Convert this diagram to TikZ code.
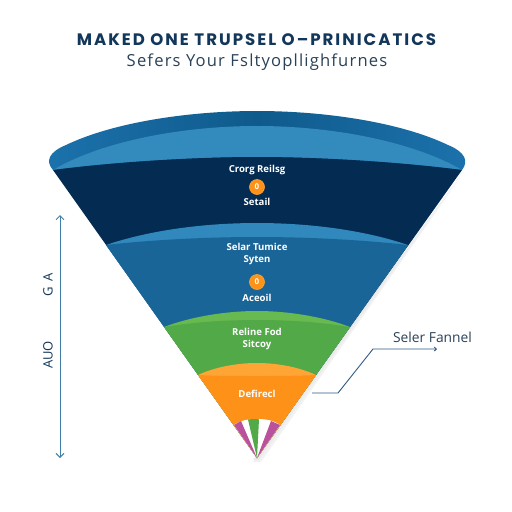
\documentclass[tikz,border=0pt]{standalone}
\usepackage{fontspec}
\setmainfont{Open Sans}
\newfontfamily\titlefont[LetterSpace=12]{Poppins}
\newfontfamily\subfont[LetterSpace=7]{Open Sans}
\usetikzlibrary{arrows.meta}
\definecolor{capblue}{HTML}{0F5A8C}
\definecolor{capend}{HTML}{1C72AC}
\definecolor{bandblue}{HTML}{338ABD}
\definecolor{navy}{HTML}{042B52}
\definecolor{midblue}{HTML}{1A6598}
\definecolor{midband}{HTML}{3088BC}
\definecolor{grn}{HTML}{51A947}
\definecolor{grnband}{HTML}{68B94F}
\definecolor{org}{HTML}{FE9219}
\definecolor{orgband}{HTML}{FFA536}
\definecolor{purp}{HTML}{B9519D}
\definecolor{titleblue}{HTML}{12375A}
\definecolor{subgray}{HTML}{2A4258}
\definecolor{axisblue}{HTML}{3F7FA6}
\definecolor{calloutblue}{HTML}{2F5A85}
\tikzset{
  stagelabel/.style={text=white,font=\fontsize{9.6}{11}\selectfont\bfseries,inner sep=0pt,align=center},
  coin/.style={circle,fill=org,draw=orgband,line width=0.6pt,minimum size=15pt,inner sep=0pt,text=white,font=\fontsize{8}{8}\selectfont\bfseries},
  sidelabel/.style={rotate=90,text=titleblue,font=\fontsize{13}{14}\selectfont,inner sep=0pt},
  axisline/.style={draw=axisblue,line width=0.9pt,{Straight Barb[length=4pt,width=8pt]}-{Straight Barb[length=4pt,width=8pt]}},
  calloutline/.style={draw=calloutblue,line width=0.9pt,line join=round,-{Straight Barb[length=2pt,width=4pt]}}
}
\begin{document}
\begin{tikzpicture}[x=1pt,y=-1pt]
\path[use as bounding box,fill=white] (0,0) rectangle (512,512);
% soft shadow at the right side
\fill[black!5] (464,172) -- (261,462) -- (253,462) -- cycle;
\fill[black!8] (463.5,171) -- (259,460) -- (253,460) -- cycle;
% cap
\path[left color=capend,right color=capend,middle color=capblue]
  (53,170) .. controls (45,161) and (49,152) .. (66,145)
  .. controls (114,122) and (190,111) .. (257,111)
  .. controls (324,111) and (400,122) .. (448,145)
  .. controls (465,152) and (469,161) .. (462,170) -- cycle;
\fill[bandblue] (53,170) .. controls (100,142) and (180,126) .. (257,126)
  .. controls (334,126) and (414,142) .. (462,170)
  .. controls (400,162) and (320,157) .. (257,157)
  .. controls (194,157) and (114,162) .. (53,170) -- cycle;
% navy
\fill[navy] (53,170) .. controls (114,162) and (194,157) .. (257,157)
  .. controls (320,157) and (400,162) .. (462,170) -- (257,458) -- cycle;
% mid blue
\fill[midband] (106,245) .. controls (150,230) and (205,223) .. (257,223)
  .. controls (309,223) and (364,230) .. (408,245) -- (257,458) -- cycle;
\fill[midblue] (106,245) .. controls (150,240) and (205,237) .. (257,237)
  .. controls (309,237) and (364,240) .. (408,245) -- (257,458) -- cycle;
% green
\fill[grnband] (164,327) .. controls (190,317) and (225,311) .. (257,311)
  .. controls (289,311) and (324,317) .. (350,327) -- (257,458) -- cycle;
\fill[grn] (164,327) .. controls (195,322) and (225,320) .. (257,320)
  .. controls (289,320) and (319,322) .. (350,327) -- (257,458) -- cycle;
% orange
\fill[orgband] (198,375) .. controls (215,367) and (237,363) .. (257,363)
  .. controls (277,363) and (299,367) .. (316,375) -- (257,458) -- cycle;
\fill[org] (198,375) .. controls (220,376) and (240,376) .. (257,376)
  .. controls (274,376) and (294,376) .. (316,375) -- (257,458) -- cycle;
% tip wedges
\fill[white] (234,425) .. controls (241,420) and (249,419) .. (257,419)
  .. controls (265,419) and (273,420) .. (280,425) -- (257,458) -- cycle;
\fill[purp] (234,425) -- (241,421) -- (257,458) -- cycle;
\fill[purp] (280,425) -- (271,421) -- (257,458) -- cycle;
\fill[grn] (248,419.5) .. controls (251,419) and (256,419) .. (259,419.3) -- (257,458) -- cycle;
% title
\node[inner sep=0pt,text=titleblue,font=\titlefont\fontsize{16.6}{18}\selectfont\bfseries] (title) at (256.5,40) {MAKED ONE TRUPSEL O–PRINICATICS};
\node[inner sep=0pt,text=subgray,font=\subfont\fontsize{16.6}{19}\selectfont] (subtitle) at (257,62) {Sefers Your Fsltyopllighfurnes};
% stage labels
\node[stagelabel] (l1) at (257,170) {Crorg Reilsg};
\node[coin] (c1) at (257,187) {0};
\node[stagelabel] (l2) at (257,202) {Setail};
\node[stagelabel] (l3) at (257,254) {Selar Tumice\\[1pt]Syten};
\node[coin] (c2) at (257,282) {0};
\node[stagelabel] (l4) at (257,298) {Aceoil};
\node[stagelabel] (l5) at (257,339) {Reline Fod\\[1pt]Sitcoy};
\node[stagelabel] (l6) at (257,394) {Defirecl};
% left axis
\coordinate (axtop) at (60,215);
\coordinate (axbot) at (60,458);
\draw[axisline] (axtop) -- (axbot);
\node[sidelabel] (ga) at (48,285) {G\hspace{6pt}A};
\node[sidelabel] (auo) at (48,355) {AUO};
% callout
\node[inner sep=0pt,text=subgray,font=\fontsize{13.8}{15}\selectfont] (callout) at (432.5,337) {Seler Fannel};
\coordinate (cstart) at (312,393);
\coordinate (cend) at (437,349);
\draw[calloutline] (cstart) -- (338,393) -- (373,349) -- (cend);
\end{tikzpicture}
\end{document}
